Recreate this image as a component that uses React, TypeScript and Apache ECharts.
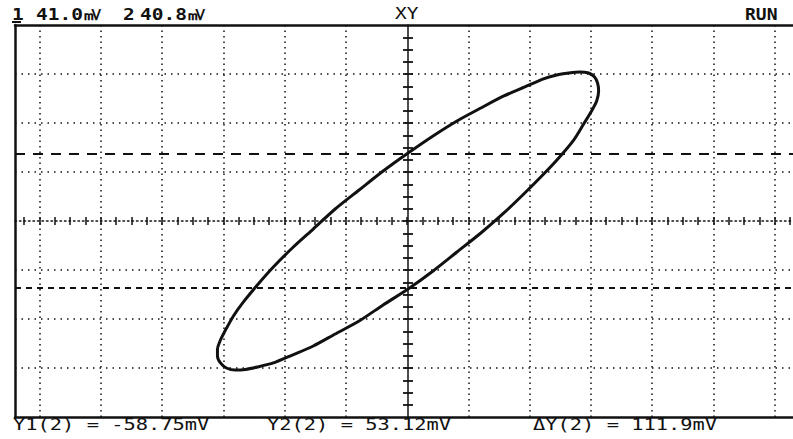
import React, { useEffect, useRef } from "react";
import * as echarts from "echarts";

// Scope settings (mV per division) and screen framing (in divisions)
const X_MV_PER_DIV = 41.0;
const Y_MV_PER_DIV = 40.8;
const Y_CENTER_MV = -3.2;
const X_LEFT_DIV = -6.4;
const X_RIGHT_DIV = 6.3;
const Y_HALF_DIV = 4;

// Graticule division lines (in divisions)
const xDivLines = [-6, -5, -4, -3, -2, -1, 1, 2, 3, 4, 5, 6];
const yDivLines = [-3, -2, -1, 1, 2, 3];

// Lissajous trace (mV)
const traceX = [
  -126.9, -124.9, -122.2, -116.2, -109.5, -100.2, -89.5, -76.8, -62.8, -48.1,
  -32.1, -16.0, 0.7, 17.4, 33.4, 49.4, 64.8, 78.8, 90.8, 100.2,
  108.2, 115.5, 121.5, 125.5, 127.5, 128.2, 126.9, 123.5, 118.2, 111.5,
  101.5, 90.8, 78.1, 64.8, 49.4, 33.4, 17.4, 0.7, -16.0, -32.1,
  -48.1, -62.8, -76.8, -89.5, -100.2, -108.2, -114.9, -120.9, -124.9, -126.9,
  -126.9,
];
const traceY = [
  -108.9, -102.3, -95.6, -82.3, -70.6, -56.5, -41.5, -25.7, -9.9, 6.8,
  22.6, 38.4, 53.4, 67.6, 80.1, 90.9, 100.9, 108.4, 115.0, 118.4,
  120.0, 120.9, 120.0, 116.7, 111.7, 105.0, 96.7, 88.4, 77.6, 64.2,
  49.3, 35.1, 19.3, 3.5, -13.2, -29.0, -44.8, -59.8, -73.1, -86.5,
  -97.3, -107.3, -114.8, -121.4, -124.8, -126.8, -127.3, -125.6, -121.4, -115.6,
  -108.9,
];

// Cursor readings (mV)
const cursorY1 = -58.75;
const cursorY2 = 53.12;

// Header texts
const ch1Label = "1";
const ch1Scale = "41.0㎷";
const ch2Label = "2";
const ch2Scale = "40.8㎷";
const modeLabel = "XY";
const runLabel = "RUN";

const INK = "#111111";
const MONO = "'DejaVu Sans Mono', 'Liberation Mono', monospace";

export default function App() {
  const ref = useRef<HTMLDivElement>(null);

  useEffect(() => {
    if (!ref.current) return;
    const chart = echarts.init(ref.current, undefined, { renderer: "svg" });

    const xMin = X_LEFT_DIV * X_MV_PER_DIV;
    const xMax = X_RIGHT_DIV * X_MV_PER_DIV;
    const yMin = Y_CENTER_MV - Y_HALF_DIV * Y_MV_PER_DIV;
    const yMax = Y_CENTER_MV + Y_HALF_DIV * Y_MV_PER_DIV;

    const xTicks: number[] = [];
    for (let q = -25; q <= 25; q++) xTicks.push((q * X_MV_PER_DIV) / 4);
    const yTicks: number[] = [];
    for (let q = -15; q <= 15; q++) yTicks.push(Y_CENTER_MV + (q * Y_MV_PER_DIV) / 4);

    const hidden = {
      axisLabel: { show: false },
      splitLine: { show: false },
    };
    const baseX = { type: "value" as const, gridIndex: 0, min: xMin, max: xMax, ...hidden };
    const baseY = { type: "value" as const, gridIndex: 0, min: yMin, max: yMax, ...hidden };

    const deltaY = cursorY2 - cursorY1;
    const textStyle = (text: string, extra: any = {}) => ({
      text,
      x: 0,
      y: 0,
      fontFamily: MONO,
      fontSize: 15,
      fontWeight: "bold",
      fill: INK,
      align: "left",
      verticalAlign: "middle",
      ...extra,
    });

    chart.setOption({
      animation: false,
      backgroundColor: "#ffffff",
      grid: { left: 15, top: 25, width: 780, height: 392, containLabel: false },
      xAxis: [
        {
          ...baseX,
          position: "top",
          axisLine: { show: true, onZero: false, lineStyle: { color: INK, width: 2.5 } },
          axisTick: { show: false },
        },
        {
          ...baseX,
          position: "bottom",
          axisLine: { show: true, onZero: false, lineStyle: { color: INK, width: 2.5 } },
          axisTick: { show: false },
        },
        {
          ...baseX,
          position: "bottom",
          offset: -196,
          axisLine: { show: true, onZero: false, lineStyle: { color: INK, width: 1.5, type: [1.5, 3] } },
          axisTick: { show: true, inside: true, length: 4, customValues: xTicks, lineStyle: { color: INK, width: 1.5 } },
        },
        {
          ...baseX,
          position: "bottom",
          offset: -196,
          axisLine: { show: false },
          axisTick: { show: true, inside: false, length: 4, customValues: xTicks, lineStyle: { color: INK, width: 1.5 } },
        },
      ],
      yAxis: [
        {
          ...baseY,
          position: "left",
          axisLine: { show: true, onZero: false, lineStyle: { color: INK, width: 2.5 } },
          axisTick: { show: false },
        },
        {
          ...baseY,
          position: "left",
          offset: -393,
          axisLine: { show: true, onZero: false, lineStyle: { color: INK, width: 1.5 } },
          axisTick: { show: true, inside: true, length: 5, customValues: yTicks, lineStyle: { color: INK, width: 1.8 } },
        },
        {
          ...baseY,
          position: "left",
          offset: -393,
          axisLine: { show: false },
          axisTick: { show: true, inside: false, length: 5, customValues: yTicks, lineStyle: { color: INK, width: 1.8 } },
        },
      ],
      series: [
        {
          type: "line",
          xAxisIndex: 0,
          yAxisIndex: 0,
          data: traceX.map((x, i) => [x, traceY[i]]),
          showSymbol: false,
          smooth: 0.25,
          lineStyle: { color: INK, width: 3 },
          z: 5,
          silent: true,
          markLine: {
            silent: true,
            symbol: ["none", "none"],
            label: { show: false },
            animation: false,
            data: [
              ...xDivLines.map((k) => ({
                xAxis: k * X_MV_PER_DIV,
                lineStyle: { color: INK, width: 1.5, type: [1.5, 4] },
              })),
              ...yDivLines.map((k) => ({
                yAxis: Y_CENTER_MV + k * Y_MV_PER_DIV,
                lineStyle: { color: INK, width: 1.5, type: [1.5, 5] },
              })),
              { yAxis: cursorY2, lineStyle: { color: INK, width: 2, type: [10, 8] } },
              { yAxis: cursorY1, lineStyle: { color: INK, width: 2, type: [6, 5] } },
            ],
          },
        },
      ],
      graphic: [
        { type: "text", x: 12, y: 15, scaleX: 1.3, style: textStyle(ch1Label) },
        { type: "rect", shape: { x: 12, y: 21, width: 9, height: 2 }, style: { fill: INK } },
        { type: "text", x: 36, y: 15, scaleX: 1.3, style: textStyle(ch1Scale) },
        { type: "text", x: 123, y: 15, scaleX: 1.3, style: textStyle(ch2Label) },
        { type: "text", x: 140, y: 15, scaleX: 1.3, style: textStyle(ch2Scale) },
        { type: "text", x: 395, y: 14, scaleX: 1.3, style: textStyle(modeLabel, { fontWeight: "normal" }) },
        { type: "text", x: 745, y: 15, scaleX: 1.2, style: textStyle(runLabel) },
        { type: "text", x: 13, y: 425, scaleX: 1.36, style: textStyle(`Y1(2) = ${cursorY1.toFixed(2)}mV`, { fontWeight: "normal" }) },
        { type: "text", x: 267, y: 425, scaleX: 1.36, style: textStyle(`Y2(2) = ${cursorY2.toFixed(2)}mV`, { fontWeight: "normal" }) },
        { type: "text", x: 533, y: 425, scaleX: 1.36, style: textStyle(`ΔY(2) = ${deltaY.toFixed(1)}mV`, { fontWeight: "normal" }) },
      ],
    });

    return () => chart.dispose();
  }, []);

  return (
    <div
      ref={ref}
      style={{ position: "fixed", left: 0, top: 0, width: 793, height: 439, background: "#fff" }}
    />
  );
}
